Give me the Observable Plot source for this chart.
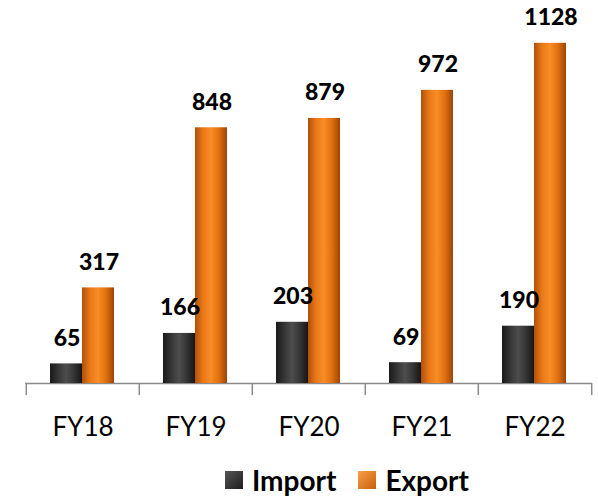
<!DOCTYPE html>
<html><head><meta charset="utf-8">
<script src="https://cdn.jsdelivr.net/npm/d3@7"></script>
<script src="https://cdn.jsdelivr.net/npm/@observablehq/plot@0.6"></script>
<style>
body{margin:0;background:#fff;font-family:Lato,"Open Sans",sans-serif;}
#legend{display:flex;justify-content:flex-start;align-items:center;height:50px;margin-top:5px;padding-left:225px;font-weight:700;font-size:28px;color:#000;}
#legend .sw{width:18px;height:18px;display:inline-block;margin-right:9px;}
#legend .item{display:flex;align-items:center;margin-right:22px;}
</style></head>
<body><div id="chart"></div>
<div id="legend">
 <div class="item"><span class="sw" style="background:linear-gradient(135deg,#555,#1e1e1e)"></span>Import</div>
 <div class="item"><span class="sw" style="background:linear-gradient(135deg,#f7a04a,#c85e0a)"></span>Export</div>
</div>
<script>
const years = ["FY18","FY19","FY20","FY21","FY22"];
const importVals = [65,166,203,69,190];
const exportVals = [317,848,879,972,1128];

const imp = years.map((y,i)=>({year:y, value:importVals[i]}));
const exp = years.map((y,i)=>({year:y, value:exportVals[i]}));
const step = (598-25-6)/years.length;

const plot = Plot.plot({
  width:598, height:450,
  marginLeft:25, marginRight:6, marginTop:0, marginBottom:67,
  style:{fontFamily:"Lato, 'Open Sans', sans-serif", background:"#fff"},
  x:{domain:years, padding:0, label:null},
  y:{domain:[0,1270], axis:null},
  marks:[
    Plot.axisX({tickSize:0, tickPadding:34, fontSize:26, fill:"#000", label:null}),
    Plot.ruleY([0],{stroke:"#8a8a8a", strokeWidth:1.5}),
    Plot.ruleX(years,{x:d=>d, dx:-step/2, y1:0, y2:-40, stroke:"#8a8a8a", strokeWidth:1.5}),
    Plot.ruleX([years[years.length-1]],{x:d=>d, dx:step/2, y1:0, y2:-40, stroke:"#8a8a8a", strokeWidth:1.5}),
    Plot.barY(imp,{x:"year", y:"value", fill:"url(#gImp)", insetLeft:24, insetRight:57}),
    Plot.barY(exp,{x:"year", y:"value", fill:"url(#gExp)", insetLeft:56, insetRight:25}),
    Plot.text(imp,{x:"year", y:"value", text:d=>String(d.value), dx:-16, dy:-18, lineAnchor:"bottom", fontSize:23, fontWeight:900, fill:"#000"}),
    Plot.text(exp,{x:"year", y:"value", text:d=>String(d.value), dx:16, dy:-18, lineAnchor:"bottom", fontSize:23, fontWeight:900, fill:"#000"})
  ]
});
const ns="http://www.w3.org/2000/svg";
const defs=document.createElementNS(ns,"defs");
defs.innerHTML=`
<linearGradient id="gImp" x1="0" x2="1" y1="0" y2="0">
 <stop offset="0" stop-color="#1a1a1a"/><stop offset="0.3" stop-color="#3a3a3a"/>
 <stop offset="0.5" stop-color="#4d4d4d"/><stop offset="0.7" stop-color="#3a3a3a"/>
 <stop offset="1" stop-color="#161616"/></linearGradient>
<linearGradient id="gExp" x1="0" x2="1" y1="0" y2="0">
 <stop offset="0" stop-color="#b0500a"/><stop offset="0.25" stop-color="#ea7818"/>
 <stop offset="0.5" stop-color="#f98d26"/><stop offset="0.75" stop-color="#e0700f"/>
 <stop offset="1" stop-color="#9a4508"/></linearGradient>`;
plot.insertBefore(defs, plot.firstChild);
document.getElementById("chart").appendChild(plot);
</script></body></html>
